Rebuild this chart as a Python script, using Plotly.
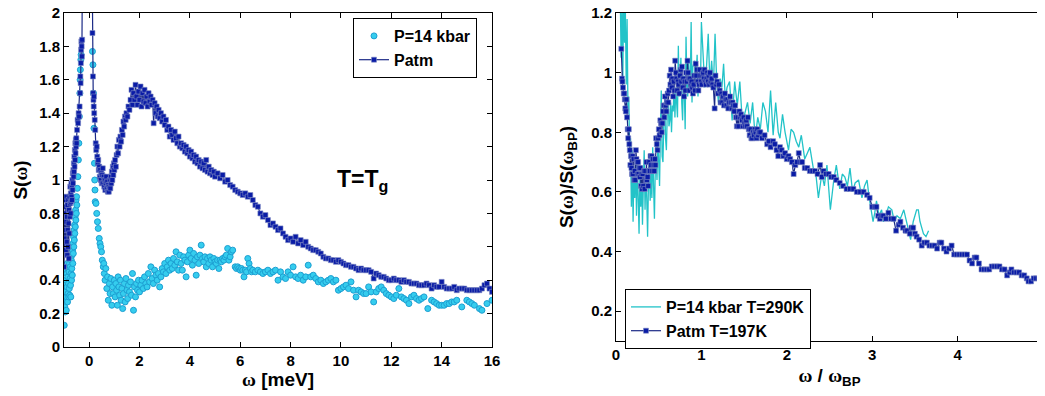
import plotly.graph_objects as go

# ---------------- Left panel data: S(omega) vs omega [meV] ----------------
patm_w = [-1.00,-0.98,-0.97,-0.96,-0.95,-0.94,-0.93,-0.92,-0.91,-0.90,-0.89,-0.88,-0.87,-0.86,-0.85,-0.84,-0.83,-0.82,-0.81,-0.80,
          -0.79,-0.78,-0.77,-0.76,-0.75,-0.74,-0.73,-0.72,-0.71,-0.70,-0.69,-0.68,-0.67,-0.66,-0.65,-0.64,-0.63,-0.62,-0.61,-0.60,
          -0.59,-0.58,-0.57,-0.56,-0.55,-0.54,-0.53,-0.52,-0.51,-0.50,-0.48,-0.46,-0.44,-0.42,-0.40,-0.38,-0.36,-0.35,-0.34,-0.33,
          -0.32,-0.31,-0.30,-0.29,-0.28,-0.26,-0.22,0.05,0.10,0.13,0.15,0.16,0.17,0.18,0.19,0.20,0.22,0.24,0.26,0.28,
          0.30,0.32,0.34,0.36,0.38,0.40,0.42,0.44,0.46,0.48,0.50,0.52,0.54,0.56,0.58,0.60,0.62,0.64,0.66,0.68,
          0.70,0.72,0.74,0.76,0.78,0.80,0.82,0.84,0.86,0.88,0.90,0.92,0.94,0.96,0.98,1.00,1.03,1.06,1.09,1.12,
          1.15,1.18,1.21,1.24,1.27,1.30,1.33,1.36,1.39,1.42,1.45,1.48,1.52,1.56,1.60,1.64,1.68,1.72,1.76,1.80,
          1.84,1.88,1.92,1.96,2.00,2.04,2.08,2.12,2.16,2.20,2.24,2.28,2.32,2.36,2.40,2.44,2.48,2.52,2.56,2.60,
          2.64,2.68,2.72,2.76,2.80,2.85,2.90,2.95,3.00,3.05,3.10,3.15,3.20,3.25,3.30,3.35,3.40,3.45,3.50,3.55,
          3.60,3.65,3.70,3.75,3.80,3.85,3.90,3.95,4.00,4.05,4.10,4.15,4.20,4.25,4.30,4.35,4.40,4.45,4.50,4.55,
          4.60,4.65,4.70,4.75,4.80,4.85,4.90,4.95,5.00,5.10,5.20,5.30,5.40,5.50,5.60,5.70,5.80,5.90,6.00,6.10,
          6.20,6.30,6.40,6.50,6.60,6.70,6.80,6.90,7.00,7.10,7.20,7.30,7.40,7.50,7.60,7.70,7.80,7.90,8.00,8.10,
          8.20,8.30,8.40,8.50,8.60,8.70,8.80,8.90,9.00,9.10,9.20,9.30,9.40,9.50,9.60,9.70,9.80,9.90,10.0,10.1,
          10.2,10.3,10.4,10.5,10.6,10.7,10.8,10.9,11.0,11.1,11.2,11.3,11.4,11.5,11.6,11.7,11.8,11.9,12.0,12.1,
          12.2,12.3,12.4,12.5,12.6,12.7,12.8,12.9,13.0,13.1,13.2,13.3,13.4,13.5,13.6,13.7,13.8,13.9,14.0,14.1,
          14.2,14.3,14.4,14.5,14.6,14.7,14.8,14.9,15.0,15.1,15.2,15.3,15.4,15.5,15.6,15.7,15.8,15.9,16.0]
patm_s = [0.48,0.65,0.80,0.62,0.88,0.70,0.58,0.84,0.75,0.90,0.63,0.78,0.55,0.85,0.70,0.60,0.88,0.74,0.53,0.82,
          0.68,0.90,0.78,0.86,0.96,0.80,0.92,0.87,0.98,0.90,0.96,0.88,1.00,0.94,1.04,0.98,1.06,1.02,1.10,1.05,
          1.14,1.08,1.18,1.12,1.22,1.16,1.24,1.20,1.25,1.22,1.30,1.36,1.34,1.40,1.38,1.44,1.52,1.62,1.58,1.70,
          1.78,1.83,1.80,1.74,1.84,2.20,3.50,3.50,2.30,1.88,1.62,1.52,1.48,1.44,1.50,1.40,1.36,1.30,1.22,1.18,
          1.20,1.14,1.10,1.12,1.06,1.08,1.02,1.06,1.00,1.04,0.98,1.03,1.07,0.98,1.02,0.96,1.00,0.94,0.98,1.02,
          0.95,0.99,0.93,0.97,0.93,0.96,1.00,0.95,1.02,0.98,1.05,1.00,1.08,1.03,1.10,1.06,1.12,1.08,1.15,1.20,
          1.16,1.24,1.20,1.26,1.23,1.30,1.27,1.35,1.32,1.38,1.36,1.40,1.38,1.44,1.42,1.48,1.54,1.45,1.52,1.48,
          1.57,1.50,1.45,1.53,1.48,1.56,1.44,1.52,1.47,1.54,1.46,1.50,1.44,1.52,1.47,1.50,1.45,1.48,1.34,1.46,
          1.40,1.44,1.38,1.42,1.37,1.40,1.35,1.38,1.33,1.36,1.30,1.32,1.26,1.30,1.27,1.24,1.29,1.25,1.22,1.26,
          1.20,1.22,1.19,1.21,1.17,1.20,1.16,1.18,1.14,1.17,1.13,1.15,1.11,1.14,1.10,1.12,1.08,1.11,1.07,1.10,
          1.06,1.12,1.05,1.08,1.04,1.06,1.03,1.05,1.02,1.04,1.01,1.03,0.99,1.00,0.97,0.96,0.94,0.93,0.92,0.91,
          0.92,0.90,0.91,0.88,0.85,0.84,0.80,0.78,0.79,0.76,0.73,0.74,0.72,0.70,0.71,0.68,0.66,0.64,0.65,0.63,
          0.66,0.62,0.64,0.61,0.63,0.60,0.59,0.58,0.58,0.57,0.56,0.54,0.53,0.53,0.52,0.52,0.51,0.52,0.51,0.50,
          0.49,0.49,0.48,0.48,0.47,0.46,0.47,0.46,0.46,0.46,0.45,0.41,0.44,0.43,0.42,0.42,0.41,0.40,0.40,0.41,
          0.40,0.40,0.39,0.40,0.39,0.39,0.38,0.38,0.38,0.37,0.37,0.37,0.38,0.37,0.35,0.37,0.36,0.36,0.39,0.36,
          0.35,0.35,0.35,0.36,0.34,0.35,0.35,0.35,0.34,0.34,0.34,0.34,0.34,0.34,0.35,0.37,0.38,0.35,0.33]

p14_w = [-1.00,-0.99,-0.98,-0.97,-0.96,-0.95,-0.94,-0.93,-0.92,-0.91,-0.90,-0.89,-0.88,-0.87,-0.86,-0.85,-0.84,-0.83,-0.82,-0.81,
         -0.80,-0.79,-0.78,-0.77,-0.76,-0.75,-0.74,-0.73,-0.72,-0.71,-0.70,-0.69,-0.68,-0.67,-0.66,-0.65,-0.64,-0.63,-0.62,-0.61,
         -0.60,-0.59,-0.58,-0.57,-0.56,-0.55,-0.54,-0.53,-0.52,-0.51,-0.50,-0.49,-0.47,-0.45,-0.43,-0.41,-0.39,-0.37,-0.36,-0.35,
         -0.33,-0.32,0.13,0.15,0.17,0.19,0.21,0.22,0.23,0.24,0.27,0.30,0.33,0.36,0.40,0.43,0.46,0.49,0.52,0.56,
         0.58,0.60,0.63,0.66,0.70,0.73,0.76,0.80,0.83,0.86,0.90,0.93,0.96,1.00,1.03,1.06,1.09,1.12,1.15,1.18,
         1.21,1.24,1.27,1.30,1.33,1.36,1.40,1.43,1.46,1.50,1.53,1.56,1.60,1.64,1.68,1.72,1.76,1.80,1.84,1.88,
         1.92,1.96,2.00,2.05,2.10,2.15,2.20,2.25,2.30,2.35,2.40,2.45,2.50,2.55,2.60,2.65,2.70,2.75,2.80,2.85,
         2.90,2.95,3.00,3.05,3.10,3.15,3.20,3.25,3.30,3.35,3.40,3.45,3.50,3.55,3.60,3.65,3.70,3.75,3.80,3.85,
         3.90,3.95,4.00,4.05,4.10,4.15,4.20,4.25,4.30,4.35,4.40,4.45,4.50,4.55,4.60,4.65,4.70,4.75,4.80,4.85,
         4.90,4.95,5.00,5.05,5.10,5.15,5.20,5.25,5.30,5.35,5.40,5.45,5.50,5.55,5.60,5.65,5.70,5.80,5.85,5.90,
         5.95,6.00,6.05,6.10,6.15,6.20,6.25,6.30,6.35,6.40,6.45,6.50,6.60,6.70,6.80,6.90,7.00,7.10,7.20,7.30,
         7.40,7.50,7.60,7.70,7.80,7.90,8.00,8.10,8.20,8.30,8.40,8.50,8.60,8.70,8.80,8.90,9.00,9.10,9.20,9.30,
         9.40,9.50,9.60,9.70,9.80,9.90,10.0,10.1,10.2,10.3,10.4,10.5,10.6,10.7,10.8,10.9,11.0,11.1,11.2,11.3,
         11.4,11.5,11.6,11.7,11.8,11.9,12.0,12.1,12.2,12.3,12.4,12.5,12.6,12.7,12.8,12.9,13.0,13.1,13.2,13.3,
         13.45,13.6,13.7,13.8,13.9,14.0,14.1,14.2,14.3,14.4,14.5,14.6,14.8,15.0,15.1,15.2,15.3,15.5,15.6,15.8,16.0]
p14_s = [0.28,0.13,0.38,0.24,0.45,0.21,0.33,0.48,0.40,0.22,0.30,0.44,0.36,0.50,0.27,0.42,0.32,0.47,0.38,0.30,
         0.45,0.35,0.50,0.31,0.41,0.48,0.37,0.30,0.44,0.52,0.40,0.47,0.55,0.43,0.58,0.50,0.62,0.56,0.66,0.60,
         0.70,0.64,0.73,0.68,0.78,0.72,0.82,0.76,0.88,0.80,0.90,0.85,0.95,1.02,1.12,1.22,1.38,1.52,1.60,1.66,
         1.72,1.75,1.77,1.69,1.52,1.31,1.10,1.00,0.94,0.87,0.86,0.80,0.75,0.71,0.65,0.62,0.60,0.57,0.52,0.48,
         0.50,0.44,0.40,0.47,0.35,0.42,0.28,0.38,0.32,0.41,0.25,0.36,0.32,0.40,0.30,0.38,0.34,0.25,0.42,0.36,
         0.31,0.40,0.28,0.35,0.23,0.32,0.38,0.27,0.41,0.34,0.29,0.37,0.33,0.39,0.31,0.44,0.22,0.36,0.30,0.38,
         0.34,0.40,0.33,0.37,0.40,0.35,0.42,0.38,0.36,0.44,0.39,0.48,0.41,0.38,0.46,0.43,0.40,0.44,0.36,0.42,
         0.47,0.45,0.50,0.44,0.48,0.52,0.46,0.50,0.47,0.53,0.49,0.57,0.51,0.46,0.55,0.50,0.46,0.54,0.52,0.42,
         0.51,0.55,0.58,0.53,0.49,0.56,0.52,0.43,0.54,0.50,0.55,0.61,0.53,0.51,0.54,0.48,0.53,0.50,0.54,0.52,
         0.48,0.53,0.51,0.50,0.52,0.47,0.52,0.51,0.53,0.52,0.54,0.55,0.59,0.52,0.54,0.57,0.58,0.48,0.47,0.48,
         0.47,0.46,0.47,0.46,0.42,0.46,0.45,0.53,0.50,0.47,0.45,0.46,0.45,0.46,0.45,0.44,0.45,0.46,0.44,0.45,
         0.46,0.40,0.45,0.42,0.41,0.45,0.43,0.48,0.42,0.41,0.43,0.40,0.42,0.49,0.42,0.43,0.41,0.39,0.40,0.38,
         0.39,0.40,0.41,0.39,0.40,0.34,0.35,0.36,0.37,0.35,0.39,0.34,0.30,0.34,0.33,0.32,0.32,0.36,0.33,0.27,
         0.33,0.35,0.36,0.34,0.32,0.31,0.30,0.29,0.31,0.35,0.30,0.29,0.28,0.26,0.30,0.31,0.29,0.28,0.29,0.30,
         0.23,0.28,0.27,0.26,0.25,0.25,0.25,0.26,0.26,0.27,0.27,0.28,0.24,0.28,0.27,0.26,0.25,0.23,0.22,0.26,0.28]

# ---------------- Right panel data: S(omega)/S(omega_BP) vs omega/omega_BP ----------------
r14_x = [0.05,0.06,0.07,0.08,0.09,0.10,0.11,0.12,0.13,0.14,0.15,0.16,0.17,0.18,0.19,0.20,0.21,0.22,0.23,0.24,
         0.25,0.26,0.27,0.28,0.29,0.30,0.31,0.32,0.33,0.34,0.35,0.36,0.37,0.38,0.39,0.40,0.41,0.42,0.43,0.44,
         0.45,0.46,0.47,0.48,0.49,0.50,0.51,0.52,0.53,0.54,0.55,0.56,0.57,0.58,0.59,0.60,0.61,0.62,0.63,0.64,
         0.65,0.66,0.67,0.68,0.69,0.70,0.71,0.72,0.73,0.74,0.75,0.76,0.77,0.78,0.79,0.80,0.81,0.82,0.83,0.84,
         0.85,0.86,0.87,0.88,0.89,0.90,0.92,0.93,0.95,0.96,0.97,0.99,1.00,1.02,1.04,1.06,1.08,1.10,1.12,1.14,
         1.16,1.18,1.20,1.22,1.24,1.26,1.28,1.30,1.33,1.36,1.39,1.42,1.45,1.48,1.51,1.54,1.57,1.60,1.63,1.66,
         1.69,1.72,1.75,1.78,1.81,1.84,1.87,1.90,1.92,1.95,1.98,2.02,2.05,2.08,2.11,2.14,2.17,2.21,2.24,2.27,
         2.31,2.34,2.37,2.41,2.44,2.47,2.51,2.55,2.58,2.62,2.65,2.68,2.71,2.74,2.77,2.80,2.84,2.88,2.91,2.94,
         2.96,2.98,3.01,3.03,3.05,3.08,3.11,3.13,3.15,3.19,3.23,3.26,3.29,3.33,3.37,3.41,3.43,3.45,3.48,3.52,
         3.54,3.56,3.60,3.63,3.66]
r14_y = [1.25,1.05,1.22,0.98,1.30,1.10,1.20,0.96,1.18,0.87,0.92,0.72,0.78,0.55,0.74,0.50,0.68,0.58,0.72,0.52,
         0.70,0.60,0.46,0.66,0.55,0.67,0.49,0.62,0.74,0.54,0.66,0.58,0.45,0.63,0.70,0.57,0.66,0.58,0.75,0.62,
         0.51,0.68,0.72,0.64,0.78,0.70,0.62,0.80,0.94,0.72,0.70,0.84,0.91,0.78,0.74,0.86,0.93,0.82,0.84,0.90,
         0.80,0.89,0.87,0.96,0.85,0.95,0.88,0.85,1.09,0.92,0.98,1.05,0.90,0.84,0.99,0.94,0.81,1.12,0.96,0.92,
         1.04,0.95,0.97,1.17,0.90,1.02,1.04,0.94,1.06,0.92,1.00,0.97,1.17,1.04,0.95,1.02,1.13,0.96,1.04,0.95,
         1.13,0.96,0.90,0.98,0.95,1.03,0.91,0.95,0.97,0.84,0.97,0.89,0.97,0.83,0.87,0.90,0.83,0.90,0.78,0.85,
         0.81,0.90,0.87,0.80,0.94,0.79,0.90,0.80,0.78,0.86,0.80,0.74,0.81,0.80,0.77,0.75,0.79,0.71,0.73,0.75,
         0.68,0.66,0.58,0.66,0.62,0.69,0.54,0.64,0.69,0.61,0.66,0.65,0.62,0.68,0.60,0.63,0.64,0.58,0.62,0.64,
         0.59,0.55,0.50,0.53,0.57,0.52,0.54,0.50,0.51,0.55,0.54,0.50,0.52,0.51,0.54,0.49,0.46,0.44,0.50,0.54,
         0.54,0.50,0.46,0.45,0.47]

ratm_x = [0.062,0.070,0.075,0.082,0.090,0.097,0.103,0.109,0.115,0.122,0.129,0.137,0.143,0.150,0.156,0.162,0.168,0.175,0.181,0.187,
          0.194,0.200,0.207,0.213,0.220,0.226,0.233,0.240,0.246,0.253,0.259,0.265,0.272,0.279,0.285,0.292,0.299,0.306,0.312,0.320,
          0.328,0.336,0.343,0.350,0.357,0.363,0.370,0.377,0.384,0.390,0.397,0.404,0.411,0.418,0.425,0.432,0.441,0.448,0.455,0.462,
          0.470,0.478,0.486,0.494,0.502,0.510,0.519,0.527,0.535,0.543,0.551,0.559,0.566,0.574,0.582,0.590,0.597,0.605,0.613,0.621,
          0.629,0.637,0.645,0.653,0.661,0.669,0.677,0.685,0.693,0.701,0.709,0.717,0.725,0.733,0.741,0.749,0.757,0.765,0.773,0.781,
          0.789,0.797,0.805,0.813,0.821,0.829,0.837,0.845,0.853,0.861,0.869,0.877,0.885,0.893,0.901,0.909,0.917,0.925,0.933,0.941,
          0.949,0.957,0.965,0.973,0.981,0.989,0.997,1.005,1.013,1.021,1.029,1.037,1.045,1.053,1.061,1.069,1.077,1.085,1.093,1.101,
          1.110,1.120,1.130,1.140,1.155,1.165,1.175,1.185,1.195,1.205,1.215,1.225,1.235,1.245,1.255,1.265,1.275,1.285,1.295,1.305,
          1.315,1.325,1.335,1.345,1.355,1.365,1.375,1.385,1.395,1.405,1.415,1.425,1.435,1.445,1.455,1.465,1.475,1.485,1.495,1.505,
          1.515,1.525,1.535,1.545,1.555,1.565,1.575,1.585,1.595,1.605,1.615,1.625,1.635,1.645,1.655,1.665,1.675,1.69,1.71,1.74,
          1.77,1.79,1.81,1.84,1.86,1.88,1.90,1.92,1.94,1.96,1.98,2.00,2.02,2.04,2.06,2.08,2.10,2.12,2.14,2.16,
          2.18,2.21,2.24,2.27,2.30,2.33,2.36,2.39,2.41,2.43,2.46,2.49,2.52,2.55,2.58,2.62,2.66,2.70,2.74,2.78,
          2.82,2.86,2.90,2.94,2.97,3.00,3.03,3.05,3.07,3.09,3.11,3.13,3.16,3.19,3.22,3.25,3.28,3.31,3.33,3.36,
          3.39,3.41,3.44,3.46,3.48,3.50,3.52,3.55,3.58,3.61,3.64,3.67,3.70,3.73,3.76,3.79,3.81,3.84,3.87,3.90,
          3.93,3.96,3.99,4.02,4.05,4.08,4.11,4.14,4.17,4.20,4.22,4.25,4.28,4.31,4.34,4.37,4.40,4.43,4.46,4.49,
          4.52,4.55,4.58,4.61,4.63,4.66,4.69,4.72,4.75,4.78,4.81,4.83,4.86,4.89,4.92,4.95,4.98,5.00]
ratm_y = [1.08,0.98,0.97,0.95,0.93,0.93,0.91,0.88,0.87,0.91,0.85,0.81,0.78,0.81,0.76,0.74,0.69,0.72,0.68,0.66,
          0.72,0.66,0.71,0.64,0.67,0.64,0.74,0.71,0.70,0.66,0.70,0.66,0.68,0.65,0.68,0.62,0.66,0.61,0.66,0.62,
          0.67,0.61,0.67,0.64,0.70,0.64,0.65,0.62,0.67,0.70,0.67,0.72,0.69,0.72,0.67,0.71,0.69,0.67,0.71,0.69,
          0.78,0.76,0.74,0.78,0.81,0.79,0.84,0.83,0.80,0.83,0.87,0.89,0.85,0.92,0.89,0.87,0.90,0.93,0.90,0.94,
          0.99,0.96,1.01,0.95,0.98,0.92,0.97,0.94,1.04,1.00,0.98,0.94,0.97,0.96,0.93,0.99,1.01,0.97,1.02,0.95,
          0.98,0.92,0.97,0.94,1.00,0.97,1.04,1.00,0.98,0.94,0.98,0.96,0.97,0.95,0.93,0.96,0.99,0.94,1.03,0.99,
          1.01,0.97,0.94,0.96,1.01,0.99,0.97,0.96,0.99,1.00,0.98,1.01,0.97,0.96,0.98,1.00,0.97,0.99,0.96,1.00,
          0.97,0.98,0.96,0.95,0.88,0.99,0.96,0.97,0.93,0.96,0.94,0.90,0.93,0.90,0.92,0.89,0.93,0.91,0.89,0.91,
          0.88,0.90,0.92,0.90,0.88,0.90,0.89,0.87,0.89,0.85,0.82,0.85,0.82,0.87,0.85,0.86,0.84,0.82,0.85,0.83,
          0.82,0.84,0.82,0.85,0.81,0.79,0.81,0.78,0.78,0.80,0.79,0.81,0.80,0.78,0.81,0.79,0.80,0.80,0.78,0.79,
          0.76,0.77,0.75,0.77,0.76,0.74,0.72,0.75,0.74,0.72,0.73,0.71,0.72,0.71,0.70,0.66,0.69,0.70,0.73,0.70,
          0.70,0.68,0.68,0.67,0.67,0.67,0.66,0.69,0.65,0.67,0.66,0.66,0.65,0.65,0.64,0.63,0.62,0.61,0.61,0.61,
          0.60,0.60,0.60,0.59,0.58,0.55,0.55,0.55,0.52,0.51,0.52,0.52,0.51,0.53,0.51,0.51,0.47,0.49,0.50,0.48,
          0.47,0.47,0.46,0.48,0.48,0.46,0.45,0.44,0.42,0.43,0.43,0.42,0.42,0.42,0.41,0.43,0.43,0.41,0.40,0.41,
          0.42,0.39,0.39,0.39,0.39,0.39,0.39,0.37,0.36,0.38,0.38,0.36,0.34,0.34,0.34,0.34,0.35,0.35,0.35,0.35,
          0.34,0.34,0.32,0.33,0.34,0.33,0.33,0.33,0.32,0.32,0.31,0.30,0.30,0.31,0.31,0.31,0.30,0.30]

left_xticks = [0, 2, 4, 6, 8, 10, 12, 14, 16]
left_yticks = [0, 0.2, 0.4, 0.6, 0.8, 1, 1.2, 1.4, 1.6, 1.8, 2]
right_xticks = [0, 1, 2, 3, 4, 5]
right_yticks = [0.2, 0.4, 0.6, 0.8, 1, 1.2]

# ---------------- styling ----------------
FONT = "Liberation Sans"
NAVY_LINE = "#1b2a86"
NAVY_MARK = "#0a1ca6"
CYAN_FILL = "#35cdee"
CYAN_EDGE = "#1d9fd2"
TEAL = "#22c3c8"
W = "<span style='font-family:Liberation Serif'>ω</span>"

fig = go.Figure()

fig.add_trace(go.Scatter(
    x=p14_w, y=p14_s, mode="markers", name="P=14 kbar",
    marker=dict(symbol="circle", size=6, color=CYAN_FILL, line=dict(color=CYAN_EDGE, width=1)),
    xaxis="x", yaxis="y", legend="legend"))
fig.add_trace(go.Scatter(
    x=patm_w, y=patm_s, mode="lines+markers", name="Patm",
    line=dict(color=NAVY_LINE, width=1.2),
    marker=dict(symbol="square", size=5, color=NAVY_MARK, line=dict(color="#7f8cc4", width=0.6)),
    xaxis="x", yaxis="y", legend="legend"))

fig.add_trace(go.Scatter(
    x=r14_x, y=r14_y, mode="lines", name="P=14 kbar T=290K",
    line=dict(color=TEAL, width=1.3),
    xaxis="x2", yaxis="y2", legend="legend2"))
fig.add_trace(go.Scatter(
    x=ratm_x, y=ratm_y, mode="lines+markers", name="Patm T=197K",
    line=dict(color=NAVY_LINE, width=1.2),
    marker=dict(symbol="square", size=5, color=NAVY_MARK, line=dict(color="#7f8cc4", width=0.6)),
    xaxis="x2", yaxis="y2", legend="legend2"))

tickfont = dict(family=FONT, size=15, color="black", weight="bold")
titlefont = dict(family=FONT, size=19, color="black", weight="bold")
legfont = dict(family=FONT, size=16, color="black", weight="bold")
axis_common = dict(showline=True, linecolor="black", linewidth=1, mirror="ticks",
                   ticks="inside", ticklen=5, tickcolor="black", showgrid=False,
                   zeroline=False, tickfont=tickfont, automargin=False,
                   ticklabeloverflow="allow")

# the page body adds an 8 px offset; the figure is sized/positioned to compensate
OFF = 8
FIG_W, FIG_H = 1045 - OFF, 396 - OFF
TOP, BOTTOM = 13 - OFF, 347 - OFF          # plot-area top/bottom in figure px
H_PLOT = BOTTOM - TOP


def px_x(px):
    return (px - OFF) / FIG_W


def px_y(py):
    return (BOTTOM - (py - OFF)) / H_PLOT


fig.update_layout(
    width=FIG_W, height=FIG_H,
    margin=dict(l=0, r=0, t=TOP, b=FIG_H - BOTTOM, autoexpand=False),
    paper_bgcolor="white", plot_bgcolor="white",
    xaxis=dict(domain=[px_x(64), px_x(492)], range=[-1, 16], tickvals=left_xticks,
               title=dict(text=W + " [meV]", font=titlefont, standoff=4), anchor="y", **axis_common),
    yaxis=dict(domain=[0, 1], range=[0, 2], tickvals=left_yticks,
               title=dict(text="S(" + W + ")", font=titlefont, standoff=6), anchor="x", **axis_common),
    xaxis2=dict(domain=[px_x(616), px_x(1043)], range=[0, 5], tickvals=right_xticks,
                title=dict(text=W + " / " + W + "<sub>BP</sub>", font=titlefont, standoff=6), anchor="y2", **axis_common),
    yaxis2=dict(domain=[px_y(341), 1], range=[0.1, 1.2], tickvals=right_yticks,
                title=dict(text="S(" + W + ")/S(" + W + "<sub>BP</sub>)", font=titlefont, standoff=12), anchor="x2", **axis_common),
    legend=dict(x=px_x(353), y=px_y(18), xanchor="left", yanchor="top",
                bordercolor="black", borderwidth=1, bgcolor="white",
                font=legfont, tracegroupgap=0),
    legend2=dict(x=px_x(625), y=px_y(289), xanchor="left", yanchor="top",
                 bordercolor="black", borderwidth=1, bgcolor="white",
                 font=legfont, tracegroupgap=0),
    showlegend=True,
    annotations=[dict(text="T=T<sub>g</sub>", x=px_x(335), y=px_y(180),
                      xref="paper", yref="paper", xanchor="left", yanchor="middle", showarrow=False,
                      font=dict(family=FONT, size=23, color="black", weight="bold"))],
)

fig.write_html("out.html")
